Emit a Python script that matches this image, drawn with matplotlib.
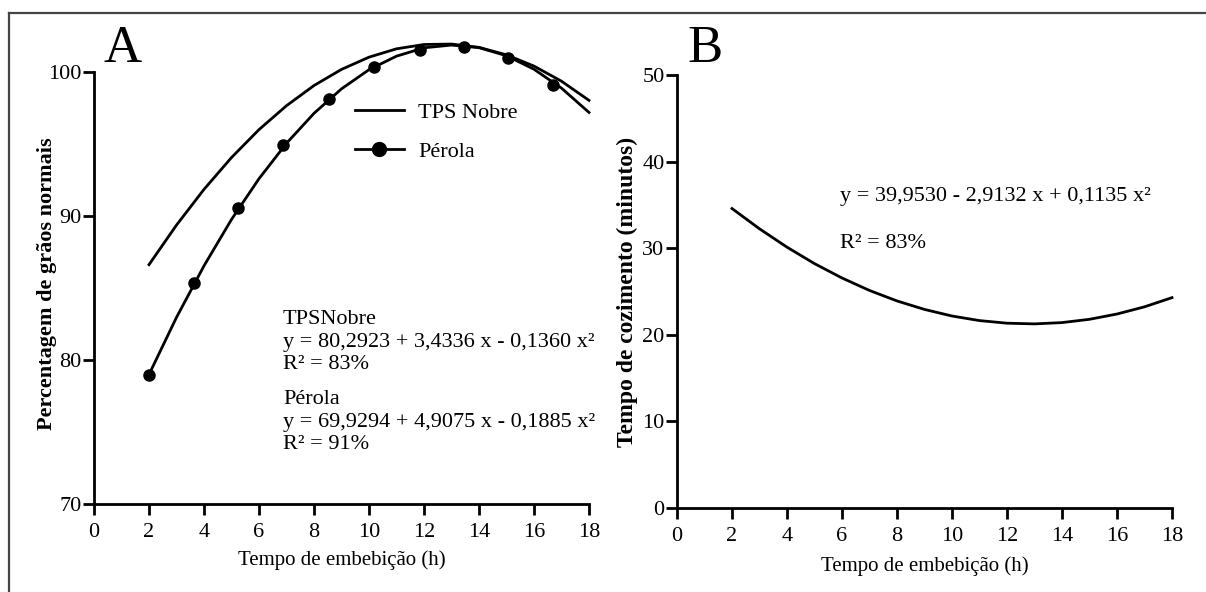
import matplotlib
matplotlib.use("Agg")
import matplotlib.pyplot as plt
from matplotlib.lines import Line2D

plt.rcParams['font.family'] = ['Liberation Serif', 'DejaVu Serif']

# Painel A - percentagem de grãos normais
horas = [2, 3, 4, 5, 6, 7, 8, 9, 10, 11, 12, 13, 14, 15, 16, 17, 18]
tps_nobre = [86.62, 89.37, 91.85, 94.06, 96.00, 97.66, 99.06, 100.18, 101.03,
             101.61, 101.91, 101.94, 101.71, 101.19, 100.41, 99.36, 98.03]
perola = [78.99, 82.96, 86.54, 89.76, 92.59, 95.05, 97.13, 98.83, 100.16,
          101.10, 101.68, 101.87, 101.69, 101.13, 100.19, 98.88, 97.19]
perola_pts_x = [2.0, 3.62, 5.25, 6.88, 8.55, 10.18, 11.85, 13.45, 15.05, 16.68]
perola_pts_y = [78.99, 85.35, 90.55, 94.90, 98.15, 100.35, 101.5, 101.75, 100.95, 99.12]

# Painel B - tempo de cozimento
cozimento = [34.58, 32.24, 30.12, 28.22, 26.56, 25.12, 23.91, 22.93, 22.17,
             21.64, 21.34, 21.26, 21.41, 21.79, 22.40, 23.23, 24.29]

xticks = [0, 2, 4, 6, 8, 10, 12, 14, 16, 18]

W, H = 1206, 592
fig = plt.figure(figsize=(W / 100, H / 100), dpi=100)

def px(x, y):
    return x / W, 1 - y / H

# moldura (só topo e esquerda)
fig.add_artist(Line2D([9 / W, 1], [1 - 13 / H, 1 - 13 / H], color='#444444', lw=1.6))
fig.add_artist(Line2D([9 / W, 9 / W], [0, 1 - 13 / H], color='#444444', lw=1.6))

axA = fig.add_axes([94 / W, 1 - 504 / H, 495 / W, (504 - 28.8) / H])
axB = fig.add_axes([677 / W, 1 - 508 / H, 495 / W, (508 - 75) / H])

for ax in (axA, axB):
    for s in ('top', 'right'):
        ax.spines[s].set_visible(False)
    for s in ('left', 'bottom'):
        ax.spines[s].set_linewidth(2.0)
    ax.tick_params(width=2.0, length=8, labelsize=16)
    ax.tick_params(axis='y', pad=1)
    ax.tick_params(axis='x', pad=6)
    ax.set_xlim(0, 18)
    ax.set_xticks(xticks)

lc = 'black'
axA.plot(horas, tps_nobre, color=lc, lw=2.0, clip_on=False)
axA.plot(horas, perola, color=lc, lw=2.0, clip_on=False)
axA.plot(perola_pts_x, perola_pts_y, 'o', color=lc, ms=8, clip_on=False)
axA.set_ylim(70, 103)
axA.set_yticks([70, 80, 90, 100])
axA.spines['left'].set_bounds(70, 100)
axA.set_ylabel('Percentagem de grãos normais', fontsize=16, fontweight='bold')
axA.yaxis.set_label_coords(-0.095, 0.464)
axA.set_xlabel('Tempo de embebição (h)', fontsize=15)
axA.xaxis.set_label_coords(0.5, -0.118)
axA.xaxis.label.set_va('center')
axA.yaxis.label.set_va('center')

handles = [Line2D([], [], color=lc, lw=2.0),
           Line2D([], [], color=lc, lw=2.0, marker='o', ms=10)]
axA.legend(handles, ['TPS Nobre', 'Pérola'], loc='upper left', frameon=False,
           fontsize=16, handlelength=2.2, handletextpad=0.65, labelspacing=0.85,
           bbox_to_anchor=px(355, 102), bbox_transform=fig.transFigure,
           borderpad=0, borderaxespad=0)

fig.text(*px(283, 342), 'TPSNobre\ny = 80,2923 + 3,4336 x - 0,1360 x²\nR² = 83%',
         fontsize=16, va='center', ha='left', linespacing=1.28)
fig.text(*px(283, 422), 'Pérola\ny = 69,9294 + 4,9075 x - 0,1885 x²\nR² = 91%',
         fontsize=16, va='center', ha='left', linespacing=1.28)
fig.text(*px(104, 62), 'A', fontsize=38, va='baseline', ha='left')

axB.plot(horas, cozimento, color=lc, lw=2.0, clip_on=False)
axB.set_ylim(0, 50)
axB.set_yticks([0, 10, 20, 30, 40, 50])
axB.set_ylabel('Tempo de cozimento (minutos)', fontsize=17, fontweight='bold')
axB.yaxis.set_label_coords(-0.1, 0.5)
axB.set_xlabel('Tempo de embebição (h)', fontsize=15)
axB.xaxis.set_label_coords(0.5, -0.134)
axB.xaxis.label.set_va('center')
axB.yaxis.label.set_va('center')

fig.text(*px(840, 197), 'y = 39,9530 - 2,9132 x + 0,1135 x²', fontsize=16,
         va='center', ha='left')
fig.text(*px(840, 244), 'R² = 83%', fontsize=16, va='center', ha='left')
fig.text(*px(687, 62), 'B', fontsize=38, va='baseline', ha='left')

fig.savefig('out.png', dpi=100)
